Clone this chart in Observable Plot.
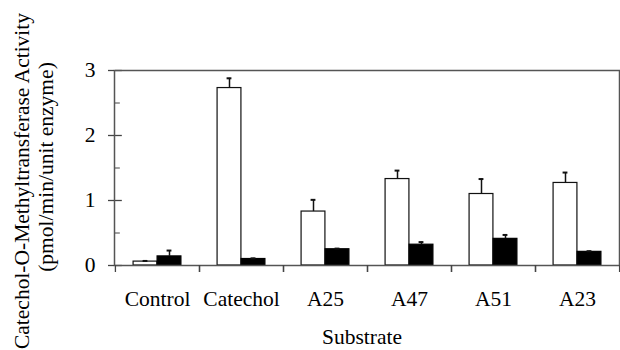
<!DOCTYPE html>
<html>
<head>
<meta charset="utf-8">
<script src="https://cdn.jsdelivr.net/npm/d3@7"></script>
<script src="https://cdn.jsdelivr.net/npm/@observablehq/plot@0.6"></script>
<style>
  html, body { margin: 0; padding: 0; background: #fff; }
</style>
</head>
<body>
<div id="chart"></div>
<script>
const categories = ["Control", "Catechol", "A25", "A47", "A51", "A23"];
const whiteMeans  = [0.06, 2.73, 0.83, 1.33, 1.10, 1.27];
const whiteErrors = [0.01, 0.15, 0.18, 0.13, 0.23, 0.16];
const blackMeans  = [0.14, 0.10, 0.25, 0.32, 0.41, 0.21];
const blackErrors = [0.09, 0.01, 0.01, 0.04, 0.06, 0.01];
const yTicks = [0, 1, 2, 3];
const yMinorTicks = [0.5, 1.5, 2.5];
const yTitle = ["Catechol-O-Methyltransferase Activity", "(pmol/min/unit enzyme)"];
const xTitle = "Substrate";

const whiteRows = categories.map((c, i) => ({cat: c, value: whiteMeans[i], err: whiteErrors[i]}));
const blackRows = categories.map((c, i) => ({cat: c, value: blackMeans[i], err: blackErrors[i]}));

const W = 620, H = 350;
const mL = 114, mR = 1, mT = 70, mB = 85;
const bw = (W - mL - mR) / categories.length;
const half = bw / 2;
const barW = 24;
const capW = 5;
const errTop = d => d.value + d.err;

const chart = Plot.plot({
  width: W,
  height: H,
  marginLeft: mL,
  marginRight: mR,
  marginTop: mT,
  marginBottom: mB,
  style: {fontFamily: "'Liberation Serif', 'Times New Roman', serif", fontSize: "21.5px", color: "#000", background: "#fff"},
  x: {type: "band", domain: categories, padding: 0, axis: null},
  y: {domain: [0, 3], axis: null},
  marks: [
    Plot.barY(whiteRows, {x: "cat", y: "value", fill: "white", stroke: "#111", strokeWidth: 1.2,
      insetLeft: half - barW, insetRight: half}),
    Plot.barY(blackRows, {x: "cat", y: "value", fill: "#000", stroke: "#000", strokeWidth: 1.2,
      insetLeft: half, insetRight: half - barW}),
    Plot.ruleX(whiteRows, {x: "cat", y1: "value", y2: errTop, dx: -barW / 2, stroke: "#111", strokeWidth: 1.5}),
    Plot.ruleX(blackRows, {x: "cat", y1: "value", y2: errTop, dx: barW / 2, stroke: "#111", strokeWidth: 1.5}),
    Plot.tickY(whiteRows, {x: "cat", y: errTop, insetLeft: half - barW / 2 - capW / 2, insetRight: half + barW / 2 - capW / 2, stroke: "#111", strokeWidth: 2}),
    Plot.tickY(blackRows, {x: "cat", y: errTop, insetLeft: half + barW / 2 - capW / 2, insetRight: half - barW / 2 - capW / 2, stroke: "#111", strokeWidth: 2}),
    // inner parts of the y ticks (major and minor), drawn in the first band from its left edge
    Plot.tickY(yTicks, {y: d => d, x: () => categories[0], insetRight: bw - 7, stroke: "#444", strokeWidth: 1.3}),
    Plot.tickY(yMinorTicks, {y: d => d, x: () => categories[0], insetRight: bw - 5, stroke: "#444", strokeWidth: 1}),
    Plot.frame({stroke: "#555", strokeWidth: 1.5}),
    Plot.axisY({ticks: yTicks, tickSize: 6, tickPadding: 13, tickFormat: d3.format("d"), label: null, stroke: "#444", strokeWidth: 1.3}),
    Plot.axisX({tickSize: 7, dx: half, tickFormat: () => "", label: null, stroke: "#444", strokeWidth: 1.3}),
    Plot.axisX({tickSize: 7, dx: -half, tickFormat: () => "", label: null, stroke: "#444", strokeWidth: 1.3}),
    Plot.axisX({tickSize: 0, tickPadding: 25, label: null}),
    Plot.text([xTitle], {frameAnchor: "bottom", dy: 72, lineAnchor: "middle", dx: -5}),
    Plot.text([yTitle[0]], {frameAnchor: "left", textAnchor: "middle", rotate: -90, dx: -92, dy: 13, lineAnchor: "middle"}),
    Plot.text([yTitle[1]], {frameAnchor: "left", textAnchor: "middle", rotate: -90, dx: -68, dy: -1, lineAnchor: "middle"})
  ]
});
document.getElementById("chart").appendChild(chart);
</script>
</body>
</html>
